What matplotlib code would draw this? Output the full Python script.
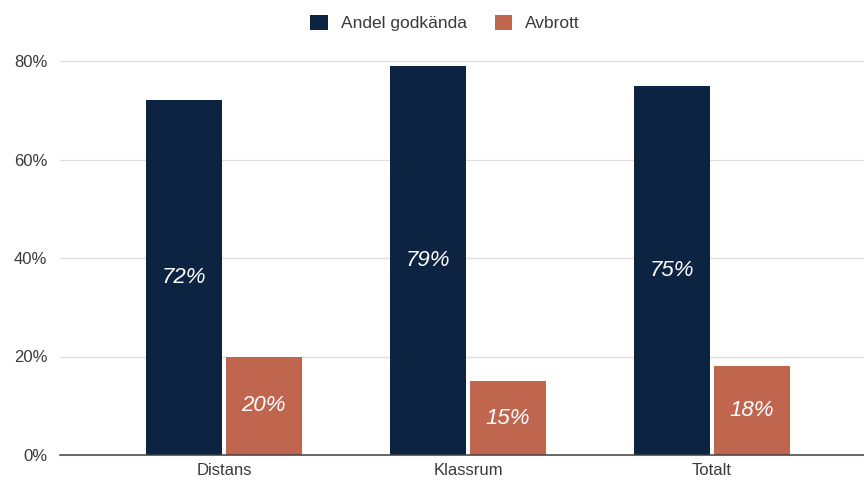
import numpy as np
import matplotlib
matplotlib.use("Agg")
from matplotlib import pyplot as plt
from matplotlib.ticker import PercentFormatter

plt.rcParams['font.family'] = ['Liberation Sans', 'DejaVu Sans']

categories = ["Distans", "Klassrum", "Totalt"]
godkanda = [0.72, 0.79, 0.75]
avbrott = [0.20, 0.15, 0.18]
series_names = ["Andel godkända", "Avbrott"]

blue = "#0c2342"
orange = "#c0664f"

fig = plt.figure(figsize=(8.64, 4.8), dpi=100)
ax = fig.add_axes([60 / 864, 25 / 480, 1 - 60 / 864, 394 / 480])

x = np.arange(len(categories))
w = 0.311
gap = 0.016
b1 = ax.bar(x - w / 2 - gap / 2, godkanda, w, color=blue, label=series_names[0], zorder=3)
b2 = ax.bar(x + w / 2 + gap / 2, avbrott, w, color=orange, label=series_names[1], zorder=3)

for bars in (b1, b2):
    for r in bars:
        h = r.get_height()
        ax.text(r.get_x() + r.get_width() / 2, h / 2, "{:.0f}%".format(h * 100),
                ha="center", va="center", color="white", fontsize=16,
                style="italic", zorder=4)

ax.set_xlim(-0.672, 2.623)
ax.set_ylim(0, 0.8)
ax.set_yticks([0, 0.2, 0.4, 0.6, 0.8])
ax.yaxis.set_major_formatter(PercentFormatter(1.0, decimals=0))
ax.set_xticks(x)
ax.set_xticklabels(categories)
ax.tick_params(axis="both", length=0, labelsize=12, colors="#3a3a3a")
ax.tick_params(axis="y", pad=9)
ax.tick_params(axis="x", pad=6)
ax.grid(axis="y", color="#dedede", linewidth=0.9, zorder=0)
for g in ax.get_ygridlines():
    g.set_clip_on(False)
for s in ["top", "right", "left"]:
    ax.spines[s].set_visible(False)
ax.spines["bottom"].set_color("#444444")
ax.spines["bottom"].set_linewidth(1.1)
ax.spines["bottom"].set_zorder(5)

fig.legend(loc="center", bbox_to_anchor=(445 / 864, 1 - 23 / 480), ncol=2, frameon=False,
           fontsize=12.5, handlelength=1.0, handleheight=1.0, handletextpad=0.75,
           columnspacing=1.6, labelcolor="#3a3a3a")

fig.savefig("out.png", dpi=100)
